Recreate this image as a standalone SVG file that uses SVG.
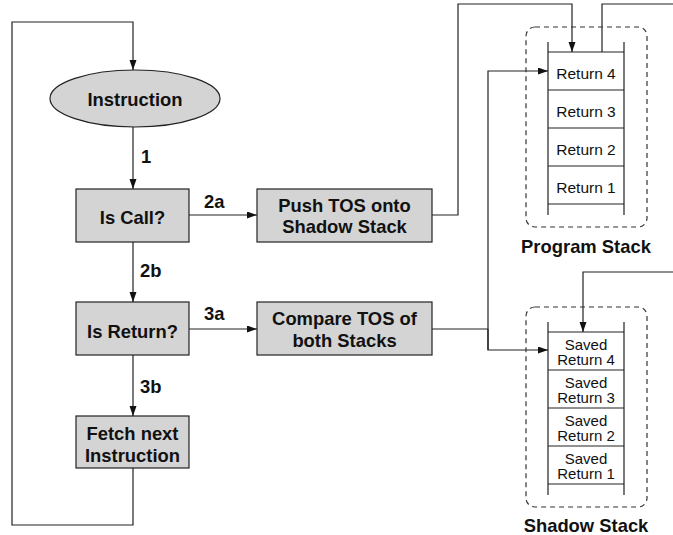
<svg xmlns="http://www.w3.org/2000/svg" width="673" height="535" viewBox="0 0 673 535">
<defs>
<marker id="ah" markerUnits="userSpaceOnUse" markerWidth="10" markerHeight="8" refX="10" refY="3.5" orient="auto">
<path d="M0,0 L10,3.5 L0,7 z" fill="#111"/>
</marker>
<style>
.box{fill:#d4d4d4;stroke:#222;stroke-width:1.2}
.lbl{font-family:"Liberation Sans",Arial,sans-serif;font-weight:bold;font-size:18.4px;fill:#111}
.ct{text-anchor:middle}
.cell{font-family:"Liberation Sans",Arial,sans-serif;font-size:15.5px;fill:#111;text-anchor:middle}
.sc{font-size:15px}
.edge{fill:none;stroke:#222;stroke-width:1.2}
.stk{fill:none;stroke:#222;stroke-width:1.2}
.dash{fill:none;stroke:#333;stroke-width:1.2;stroke-dasharray:5,4}
</style>
</defs>
<g id="connectors">
<path class="edge" d="M133,468 V525 H12 V22 H133 V70" marker-end="url(#ah)"/>
<path class="edge" d="M133,127 V189" marker-end="url(#ah)"/>
<path class="edge" d="M189,215 H257" marker-end="url(#ah)"/>
<path class="edge" d="M133,242 V302" marker-end="url(#ah)"/>
<path class="edge" d="M189,329 H257" marker-end="url(#ah)"/>
<path class="edge" d="M133,355 V416" marker-end="url(#ah)"/>
<path class="edge" d="M432,215 H458 V4 H572 V52" marker-end="url(#ah)"/>
<path class="edge" d="M602,52 V4 H673"/>
<path class="edge" d="M673,272 H583 V332" marker-end="url(#ah)"/>
<path class="edge" d="M432,329 H488"/>
<path class="edge" d="M488,350 V71 H548" marker-end="url(#ah)"/>
<path class="edge" d="M488,329 V350 H548" marker-end="url(#ah)"/>
<text class="lbl" x="141" y="163">1</text>
<text class="lbl" x="204" y="208">2a</text>
<text class="lbl" x="140" y="277">2b</text>
<text class="lbl" x="204" y="320">3a</text>
<text class="lbl" x="140" y="393">3b</text>
</g>
<g id="instruction">
<ellipse class="box" cx="135" cy="98.5" rx="85" ry="28.5"/>
<text class="lbl ct" x="135" y="106">Instruction</text>
</g>
<g id="is-call">
<rect class="box" x="76" y="189" width="113" height="53"/>
<text class="lbl ct" x="132.5" y="224">Is Call?</text>
</g>
<g id="is-return">
<rect class="box" x="76" y="302" width="113" height="53"/>
<text class="lbl ct" x="132.5" y="337.5">Is Return?</text>
</g>
<g id="fetch-next">
<rect class="box" x="76" y="416" width="113" height="52"/>
<text class="lbl ct" x="132.5" y="440">Fetch next</text>
<text class="lbl ct" x="132.5" y="461.5">Instruction</text>
</g>
<g id="push-tos">
<rect class="box" x="257" y="189" width="175" height="53"/>
<text class="lbl ct" x="344.5" y="211.5">Push TOS onto</text>
<text class="lbl ct" x="344.5" y="233">Shadow Stack</text>
</g>
<g id="compare-tos">
<rect class="box" x="257" y="302" width="175" height="53"/>
<text class="lbl ct" x="344.5" y="325">Compare TOS of</text>
<text class="lbl ct" x="344.5" y="346.5">both Stacks</text>
</g>
<g id="program-stack">
<rect class="dash" x="526" y="27" width="121" height="200" rx="9"/>
<path class="stk" d="M548,42 V215 M624,42 V215 M548,52 H624 M548,90 H624 M548,128 H624 M548,166 H624 M548,204 H624"/>
<text class="cell" x="586" y="79">Return 4</text>
<text class="cell" x="586" y="117">Return 3</text>
<text class="cell" x="586" y="155">Return 2</text>
<text class="cell" x="586" y="193">Return 1</text>
<text class="lbl ct" x="586" y="253">Program Stack</text>
</g>
<g id="shadow-stack">
<rect class="dash" x="526" y="307" width="121" height="200" rx="9"/>
<path class="stk" d="M548,322 V495 M624,322 V495 M548,332 H624 M548,370 H624 M548,408 H624 M548,446 H624 M548,484 H624"/>
<text class="cell sc" x="586" y="349.5">Saved</text>
<text class="cell sc" x="586" y="365">Return 4</text>
<text class="cell sc" x="586" y="387.5">Saved</text>
<text class="cell sc" x="586" y="403">Return 3</text>
<text class="cell sc" x="586" y="425.5">Saved</text>
<text class="cell sc" x="586" y="441">Return 2</text>
<text class="cell sc" x="586" y="463.5">Saved</text>
<text class="cell sc" x="586" y="479">Return 1</text>
<text class="lbl ct" x="586" y="532">Shadow Stack</text>
</g>
</svg>
